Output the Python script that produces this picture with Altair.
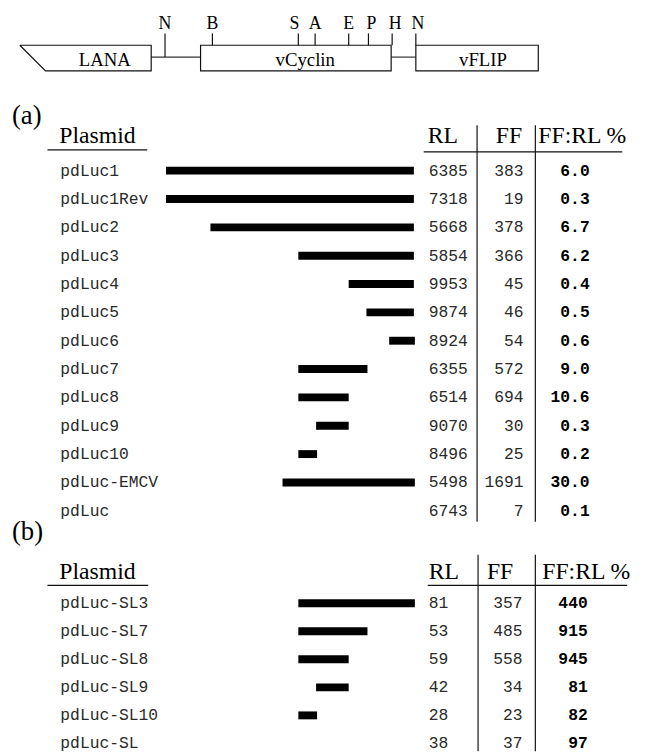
import altair as alt
import pandas as pd

# ---------------- data ----------------
genes = ["LANA", "vCyclin", "vFLIP"]
gene_start = [20, 203, 421]
gene_end = [153, 396, 545]

sites = ["N", "B", "S", "A", "E", "P", "H", "N"]
site_pos = [167, 215, 302, 319, 353, 373, 397, 421]

plasmids_a = ["pdLuc1", "pdLuc1Rev", "pdLuc2", "pdLuc3", "pdLuc4", "pdLuc5", "pdLuc6",
              "pdLuc7", "pdLuc8", "pdLuc9", "pdLuc10", "pdLuc-EMCV", "pdLuc"]
rl_a = [6385, 7318, 5668, 5854, 9953, 9874, 8924, 6355, 6514, 9070, 8496, 5498, 6743]
ff_a = [383, 19, 378, 366, 45, 46, 54, 572, 694, 30, 25, 1691, 7]
ratio_a = ["6.0", "0.3", "6.7", "6.2", "0.4", "0.5", "0.6", "9.0", "10.6", "0.3", "0.2", "30.0", "0.1"]
start_a = [168, 168, 213, 302, 353, 371, 394, 302, 302, 320, 302, 286, None]
end_a = [419, 419, 419, 419, 419, 419, 420, 372, 353, 353, 321, 420, None]

plasmids_b = ["pdLuc-SL3", "pdLuc-SL7", "pdLuc-SL8", "pdLuc-SL9", "pdLuc-SL10", "pdLuc-SL"]
rl_b = [81, 53, 59, 42, 28, 38]
ff_b = [357, 485, 558, 34, 23, 37]
ratio_b = ["440", "915", "945", "81", "82", "97"]
start_b = [302, 302, 302, 320, 302, None]
end_b = [420, 372, 353, 353, 321, None]

# ---------------- layout ----------------
MAP_TOP, MAP_BOT, MAP_MID, TICK_TOP, SITE_Y = 41, 67, 53, 29, 20
A_LABEL_Y, A_HEAD_Y, A_PL_LINE, A_TAB_LINE, A_FIRST, A_STEP, A_VTOP = 113, 133, 147, 149, 168, 28.7, 122
B_LABEL_Y, B_HEAD_Y, B_PL_LINE, B_TAB_LINE, B_FIRST, B_STEP, B_VTOP = 534, 574, 588, 588, 606, 28.4, 557

X = alt.Scale(domain=[8, 649], nice=False, zero=False)
Y = alt.Scale(domain=[8, 756], nice=False, zero=False, reverse=True)


def xq(f):
    return alt.X(f, type="quantitative", scale=X, axis=None)


def yq(f):
    return alt.Y(f, type="quantitative", scale=Y, axis=None)


def x2(f):
    return alt.X2(f)


def y2(f):
    return alt.Y2(f)


# ---------------- gene map ----------------
slant = 26
lana_pts = pd.DataFrame({
    "x": [gene_start[0], gene_end[0], gene_end[0], gene_start[0] + slant, gene_start[0]],
    "y": [MAP_TOP, MAP_TOP, MAP_BOT, MAP_BOT, MAP_TOP],
    "o": [0, 1, 2, 3, 4],
})
lana = alt.Chart(lana_pts).mark_line(color="#111", strokeWidth=1.2).encode(
    x=xq("x"), y=yq("y"), order="o:Q")

boxes = alt.Chart(pd.DataFrame({"x": gene_start[1:], "x2": gene_end[1:],
                                "y": [MAP_TOP] * 2, "y2": [MAP_BOT] * 2})).mark_rect(
    fill="white", stroke="#111", strokeWidth=1.2).encode(
    x=xq("x"), x2=x2("x2"), y=yq("y"), y2=y2("y2"))

links = alt.Chart(pd.DataFrame({"x": [gene_end[0], gene_end[1]], "x2": [gene_start[1], gene_start[2]],
                                "y": [MAP_MID, MAP_MID]})).mark_rule(color="#333", strokeWidth=1.2).encode(
    x=xq("x"), x2=x2("x2"), y=yq("y"))

tick_bottom = [MAP_MID] + [MAP_TOP] * (len(sites) - 1)
site_df = pd.DataFrame({"s": sites, "x": site_pos, "y": [TICK_TOP] * len(sites), "y2": tick_bottom})
site_ticks = alt.Chart(site_df).mark_rule(color="#111", strokeWidth=1.2).encode(
    x=xq("x"), y=yq("y"), y2=y2("y2"))
site_label_x = [167, 215, 298, 319, 353, 376, 400, 423]
site_labels = alt.Chart(pd.DataFrame({"s": sites, "x": site_label_x, "y": [SITE_Y] * len(sites)})).mark_text(
    font="Liberation Serif", fontSize=18, align="center", baseline="middle", color="#000").encode(
    x=xq("x"), y=yq("y"), text="s:N")

gene_label_x = [106, 309, 489]
gene_labels = alt.Chart(pd.DataFrame({"g": genes, "x": gene_label_x, "y": [56] * 3})).mark_text(
    font="Liberation Serif", fontSize=19, align="center", baseline="middle", color="#000").encode(
    x=xq("x"), y=yq("y"), text="g:N")

# ---------------- tables ----------------
def rows(names, rl, ff, ratio, st, en, first, step):
    return pd.DataFrame({
        "name": names, "rl": [str(v) for v in rl], "ff": [str(v) for v in ff], "ratio": ratio,
        "start": st, "end": en, "y": [first + i * step for i in range(len(names))],
    })


ra = rows(plasmids_a, rl_a, ff_a, ratio_a, start_a, end_a, A_FIRST, A_STEP)
rb = rows(plasmids_b, rl_b, ff_b, ratio_b, start_b, end_b, B_FIRST, B_STEP)
ra["nx"], ra["rlx"], ra["ffx"], ra["rx"] = 61, 434, 530, 597
rb["nx"], rb["rlx"], rb["ffx"], rb["rx"] = 61, 434, 529, 595
allrows = pd.concat([ra, rb], ignore_index=True)
bars_df = allrows.dropna(subset=["start"])

MONO = "Liberation Mono"
base = alt.Chart(allrows)
names = base.mark_text(font=MONO, fontSize=16.5, align="left", baseline="middle", color="#2a2a2a").encode(
    x=xq("nx"), y=yq("y"), text="name:N")
rlt = base.mark_text(font=MONO, fontSize=16.5, align="left", baseline="middle", color="#2a2a2a").encode(
    x=xq("rlx"), y=yq("y"), text="rl:N")
fft = base.mark_text(font=MONO, fontSize=16.5, align="right", baseline="middle", color="#2a2a2a").encode(
    x=xq("ffx"), y=yq("y"), text="ff:N")
rt = base.mark_text(font=MONO, fontSize=16.5, fontWeight="bold", align="right", baseline="middle",
                    color="#000").encode(x=xq("rx"), y=yq("y"), text="ratio:N")

bars = alt.Chart(bars_df).mark_rule(color="#000", strokeWidth=8, strokeCap="butt").encode(
    x=xq("start"), x2=x2("end"), y=yq("y"))

# headers
head_df = pd.DataFrame({
    "t": ["Plasmid", "RL", "FF", "FF:RL %", "Plasmid", "RL", "FF", "FF:RL %"],
    "x": [60, 433, 502, 545, 60, 434, 493, 549],
    "y": [A_HEAD_Y] * 4 + [B_HEAD_Y] * 4,
})
heads = alt.Chart(head_df).mark_text(font="Liberation Serif", fontSize=24, align="left", baseline="middle",
                                     color="#000").encode(x=xq("x"), y=yq("y"), text="t:N")

sec_df = pd.DataFrame({"t": ["(a)", "(b)"], "x": [12, 12], "y": [A_LABEL_Y, B_LABEL_Y]})
secs = alt.Chart(sec_df).mark_text(font="Liberation Serif", fontSize=27, align="left", baseline="middle",
                                   color="#000").encode(x=xq("x"), y=yq("y"), text="t:N")

hl_df = pd.DataFrame({
    "x": [48, 429, 48, 433], "x2": [149, 630, 150, 635],
    "y": [A_PL_LINE, A_TAB_LINE, B_PL_LINE, B_TAB_LINE],
})
hlines = alt.Chart(hl_df).mark_rule(color="#111", strokeWidth=1.3).encode(
    x=xq("x"), x2=x2("x2"), y=yq("y"))

a_bottom = A_FIRST + (len(plasmids_a) - 1) * A_STEP + 11
vl_df = pd.DataFrame({
    "x": [483, 542, 484, 542],
    "y": [A_VTOP, A_VTOP, B_VTOP, B_VTOP],
    "y2": [a_bottom, a_bottom, 756, 756],
})
vlines = alt.Chart(vl_df).mark_rule(color="#111", strokeWidth=1.2).encode(
    x=xq("x"), y=yq("y"), y2=y2("y2"))

chart = alt.layer(
    links, lana, boxes, site_ticks, site_labels, gene_labels,
    hlines, vlines, bars, names, rlt, fft, rt, heads, secs,
).properties(
    width=641, height=748, autosize=alt.AutoSizeParams(type="none"), padding=0,
    background="white",
).configure_view(stroke=None)

chart.save("out.html", embed_options={"renderer": "svg", "actions": False})
